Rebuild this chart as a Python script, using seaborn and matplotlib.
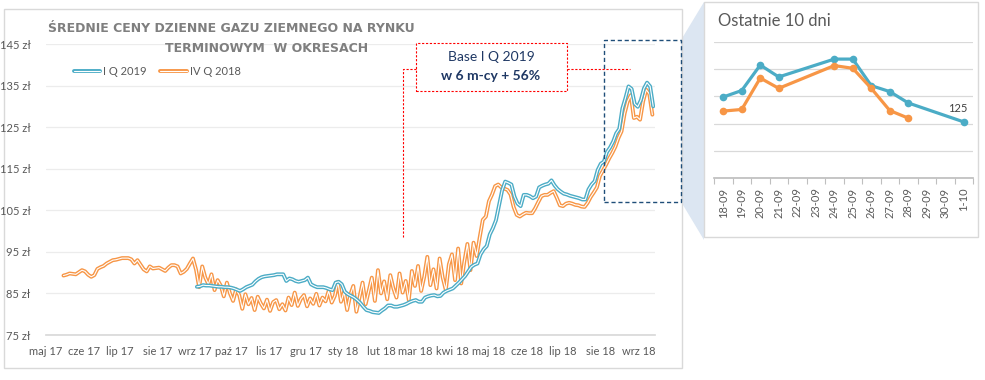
import numpy as np
import pandas as pd
import matplotlib
matplotlib.use("Agg")
import matplotlib.pyplot as plt
import seaborn as sns
from matplotlib.lines import Line2D
from matplotlib.patches import Rectangle, Polygon
from matplotlib.legend_handler import HandlerTuple

# ---------------- data ----------------
series_names = ["I Q 2019", "IV Q 2018"]

ivq2018 = [
    89.3, 89.5, 89.8, 89.7, 89.6, 90.1, 90.6, 90.3, 89.5, 89.0,
    89.4, 90.9, 91.3, 91.6, 92.2, 92.6, 93.0, 93.1, 93.3, 93.5,
    93.5, 93.5, 93.2, 92.2, 93.0, 91.9, 90.8, 90.3, 91.5, 91.0,
    91.1, 91.2, 90.8, 90.4, 91.2, 91.8, 91.8, 91.5, 89.8, 90.2,
    90.9, 92.2, 93.4,
    90.7, 86.5, 91.5, 88.8, 87.2, 89.6, 85.8, 88.2, 86.9, 84.3,
    87.6, 85.0, 83.2, 86.0, 84.6, 81.3, 84.8, 82.4, 83.9, 81.0,
    84.2, 82.6, 81.4, 83.5, 80.8, 82.9, 83.4, 81.2, 82.4, 80.9,
    84.0, 82.2, 85.2, 82.0, 83.7, 84.6, 81.9, 83.8, 82.5, 84.9,
    82.1, 84.0, 83.1, 85.6, 82.8, 84.4, 87.8, 83.0, 85.4, 81.0,
    84.6, 86.8, 80.6, 84.0, 87.6, 82.4, 85.6, 88.8, 83.2, 90.6,
    85.0, 87.9, 83.6, 89.4, 86.2, 84.0, 89.8, 85.2, 88.0, 83.4,
    90.4, 86.8, 91.6, 85.6, 89.0, 93.8, 87.0, 90.8, 86.2, 93.4,
    88.8, 85.8, 92.0, 94.4, 88.2, 95.8, 87.4, 92.6, 96.9, 90.6,
    97.2, 94.0, 98.5,
    102.7, 103.5, 107.2, 108.8,
    110.8, 111.2, 110.5, 110.2, 109.9, 108.8, 105.8, 103.9, 103.5, 104.0,
    104.4, 104.3, 104.3, 105.5, 107.0, 108.4, 108.7, 108.7, 109.2, 109.6,
    108.0, 106.2, 106.0, 106.6, 106.8, 106.6, 106.3, 106.2, 105.9, 105.8,
    106.8, 108.2, 109.3, 110.5, 113.3, 114.6, 116.0, 117.5, 118.8, 120.3,
    122.4, 124.0, 128.3, 131.2, 132.7, 127.2, 127.5, 126.8, 131.2, 134.0,
    133.0, 128.0,
]

iq2019 = [
    86.6, 86.7, 87.0, 86.9, 86.9, 86.8, 86.7, 86.6, 86.6, 86.5,
    86.5, 86.4, 86.2, 85.9, 85.6, 86.0, 86.5, 86.8, 87.1, 87.9,
    88.5, 88.9, 89.1, 89.2, 89.3, 89.4, 89.6, 89.6, 89.6, 88.0,
    88.6, 88.4, 88.0, 87.8, 88.0, 88.2, 88.8, 87.2, 86.8, 86.5,
    86.5, 86.5, 86.3, 86.0, 85.8, 87.6, 87.8, 87.2, 85.4, 84.8,
    84.4, 84.0, 83.4, 82.7, 81.8, 81.0, 80.8, 80.5, 80.4, 80.3,
    80.9, 81.4, 82.1, 82.1, 81.8, 81.8, 82.0, 82.2, 82.5, 82.9,
    83.2, 83.4, 83.0, 83.0, 84.0, 84.3, 84.5, 84.6, 84.3, 84.4,
    85.2, 85.6, 85.9, 86.2, 86.9, 87.6, 88.4, 89.2, 90.3, 91.4,
    91.9, 92.2, 94.4, 95.6, 96.4, 99.2, 100.7, 102.6, 106.2, 109.8,
    111.9, 111.6, 111.2, 108.3, 106.6, 106.0, 108.7, 108.7, 108.4, 107.9,
    108.3, 110.5, 110.9, 111.2, 111.4, 112.2, 111.0, 110.1, 109.5, 109.0,
    108.8, 108.5, 108.3, 108.1, 107.9, 107.6, 107.6, 110.0, 111.2, 112.0,
    114.7, 116.2, 116.7, 119.0, 120.1, 121.5, 123.5, 124.6, 129.5, 132.0,
    134.8, 134.2, 130.6, 129.9, 131.5, 134.3, 135.7, 134.8, 130.0,
]

y_ticks = [75, 85, 95, 105, 115, 125, 135, 145]
y_tick_labels = ["75 zł", "85 zł", "95 zł", "105 zł", "115 zł", "125 zł", "135 zł", "145 zł"]
month_labels = ["maj 17", "cze 17", "lip 17", "sie 17", "wrz 17", "paź 17", "lis 17", "gru 17",
                "sty 18", "lut 18", "mar 18", "kwi 18", "maj 18", "cze 18", "lip 18", "sie 18", "wrz 18"]

last_days = ["18-09", "19-09", "20-09", "21-09", "22-09", "23-09", "24-09",
             "25-09", "26-09", "27-09", "28-09", "29-09", "30-09", "1-10"]
last_iq2019 = [129.9, 131.1, 135.8, 133.6, np.nan, np.nan, 136.9, 136.9, 132.0, 130.9, 128.8, np.nan, np.nan, 125.3]
last_ivq2018 = [127.3, 127.6, 133.4, 131.5, np.nan, np.nan, 135.7, 135.2, 131.5, 127.4, 126.0, np.nan, np.nan, np.nan]

annotation_lines = ["Base I Q 2019", "w 6 m-cy + 56%"]
title_lines = ["ŚREDNIE CENY DZIENNE GAZU ZIEMNEGO NA RYNKU", "TERMINOWYM  W OKRESACH"]
inset_title = "Ostatnie 10 dni"

# ---------------- style ----------------
sns.set_theme(style="white")
plt.rcParams["font.family"] = ["Lato", "DejaVu Sans"]

BLUE = "#4bacc6"
ORANGE = "#f79646"
TXT = "#595959"

W, H = 985, 380
fig = plt.figure(figsize=(W / 100, H / 100), dpi=100)
fig.patch.set_facecolor("white")

def fx(px):
    return px / W

def fy(py):
    return 1 - py / H

# main panel border
fig.add_artist(Rectangle((fx(4), fy(368)), fx(682) - fx(4), fy(9) - fy(368),
                         transform=fig.transFigure, fill=False, ec="#d9d9d9", lw=1.0, zorder=-2))

# ---------------- main chart ----------------
ax = fig.add_axes([fx(46), fy(335), fx(655) - fx(46), fy(44) - fy(335)])
ax.set_facecolor("none")

STEP_DAYS = 2.54
x_orange = 14.4 + STEP_DAYS * np.arange(len(ivq2018))
x_blue = 124.3 + STEP_DAYS * np.arange(len(iq2019))

df_o = pd.DataFrame({"x": x_orange, "y": ivq2018})
df_b = pd.DataFrame({"x": x_blue, "y": iq2019})

for df, col in [(df_o, ORANGE), (df_b, BLUE)]:
    sns.lineplot(data=df, x="x", y="y", ax=ax, color=col, linewidth=2.8, legend=False)
    sns.lineplot(data=df, x="x", y="y", ax=ax, color="white", linewidth=0.8, legend=False)

month_starts = pd.date_range("2017-05-01", periods=len(month_labels), freq="MS")
tick_pos = (month_starts - month_starts[0]).days.values
ax.set_xticks(tick_pos)
ax.set_xticklabels(month_labels)
ax.set_xlim(0, 501.7)
ax.set_ylim(75, 145)
ax.set_yticks(y_ticks)
ax.set_yticklabels(y_tick_labels)
ax.set_xlabel("")
ax.set_ylabel("")
ax.grid(axis="y", color="#ececec", lw=0.9)
ax.grid(axis="x", visible=False)
for s in ["top", "right", "left"]:
    ax.spines[s].set_visible(False)
ax.spines["bottom"].set_color("#d9d9d9")
ax.tick_params(axis="both", length=0, labelsize=8, colors=TXT)
ax.tick_params(axis="y", pad=11)
ax.tick_params(axis="x", pad=8)

# legend
h_blue = (Line2D([], [], color=BLUE, lw=2.8), Line2D([], [], color="white", lw=0.8))
h_orange = (Line2D([], [], color=ORANGE, lw=2.8), Line2D([], [], color="white", lw=0.8))
leg = ax.legend([h_blue, h_orange], series_names,
                handler_map={tuple: HandlerTuple(ndivide=1, pad=0)},
                ncol=2, frameon=False, loc="upper left",
                bbox_to_anchor=(fx(74), fy(66)), bbox_transform=fig.transFigure,
                handlelength=2.35, handletextpad=0.3, columnspacing=1.2,
                borderpad=0, borderaxespad=0, fontsize=8, labelcolor=TXT)

# title
fig.text(fx(231), fy(29), title_lines[0], ha="center", va="center",
         fontsize=9, fontweight="bold", color="#7f7f7f", family=["DejaVu Sans"])
fig.text(fx(267), fy(49), title_lines[1], ha="center", va="center",
         fontsize=9, fontweight="bold", color="#7f7f7f", family=["DejaVu Sans"])

# red annotation connectors
red_kw = dict(color="#ff0000", lw=0.8, ls=(0, (2, 1.5)), transform=fig.transFigure)
fig.add_artist(Line2D([fx(415.7), fx(403.3), fx(403.3)], [fy(69.3), fy(69.3), fy(237)], **red_kw))
fig.add_artist(Line2D([fx(566.7), fx(630)], [fy(69.3), fy(69.3)], **red_kw))
fig.add_artist(Rectangle((fx(415.7), fy(90.7)), fx(566.7) - fx(415.7), fy(42.7) - fy(90.7),
                         transform=fig.transFigure, fc="white", ec="#ff0000", lw=0.8,
                         ls=(0, (2, 1.5))))
fig.text(fx(491), fy(57.3), annotation_lines[0], ha="center", va="center",
         fontsize=10, color="#1f3864")
fig.text(fx(491), fy(75.7), annotation_lines[1], ha="center", va="center",
         fontsize=10, fontweight="bold", color="#1f3864")

# zoom connector and dashed box
fig.add_artist(Polygon([(fx(681), fy(40)), (fx(704), fy(2)), (fx(704), fy(240)), (fx(681), fy(201.7))],
                       closed=True, transform=fig.transFigure, fc="#dce6f2", ec="none", zorder=-3))
fig.add_artist(Rectangle((fx(604.3), fy(201.7)), fx(681) - fx(604.3), fy(40) - fy(201.7),
                         transform=fig.transFigure, fill=False, ec="#1f4e79", lw=1.0,
                         ls=(0, (3, 2))))

# ---------------- inset ----------------
fig.add_artist(Rectangle((fx(704), fy(237)), fx(978) - fx(704), fy(1.5) - fy(237),
                         transform=fig.transFigure, fc="white", ec="#d9d9d9", lw=1.0, zorder=-1))
ax2 = fig.add_axes([fx(714), fy(177.7), fx(973) - fx(714), fy(42.3) - fy(177.7)])
ax2.set_facecolor("none")
pos = np.arange(len(last_days))
df_in = pd.DataFrame({"pos": pos, "b": last_iq2019, "o": last_ivq2018})
for colname, col in [("b", BLUE), ("o", ORANGE)]:
    d = df_in[["pos", colname]].dropna()
    sns.lineplot(data=d, x="pos", y=colname, ax=ax2, color=col, linewidth=2.3,
                 marker="o", markersize=5.5, markeredgewidth=0, legend=False)
ax2.set_xlim(-0.5, len(last_days) - 0.5)
ax2.set_ylim(115, 140)
ax2.set_yticks([115, 120, 125, 130, 135, 140])
ax2.set_yticklabels([])
ax2.set_xticks(pos)
ax2.set_xticklabels(last_days, rotation=90)
ax2.set_xticks(np.arange(-0.5, len(last_days), 1.0), minor=True)
ax2.set_xlabel("")
ax2.set_ylabel("")
ax2.grid(axis="y", color="#d9d9d9", lw=0.9)
ax2.grid(axis="x", visible=False)
for s in ["top", "right", "left"]:
    ax2.spines[s].set_visible(False)
ax2.spines["bottom"].set_color("#bfbfbf")
ax2.tick_params(axis="y", length=0)
ax2.tick_params(axis="x", which="major", length=0, labelsize=8, colors=TXT, pad=7)
ax2.tick_params(axis="x", which="minor", length=4, color="#bfbfbf", width=0.8, direction="out", bottom=True)
last_idx = int(df_in["b"].last_valid_index())
last_val = df_in["b"].iloc[last_idx]
ax2.annotate(f"{last_val:.0f}", (pos[last_idx], last_val), xytext=(-4, 10),
             textcoords="offset points", ha="center", va="center", fontsize=8, color="#404040")
fig.text(fx(718), fy(21), inset_title, ha="left", va="center", fontsize=12, color=TXT)

fig.savefig("out.png", dpi=100, facecolor="white")
